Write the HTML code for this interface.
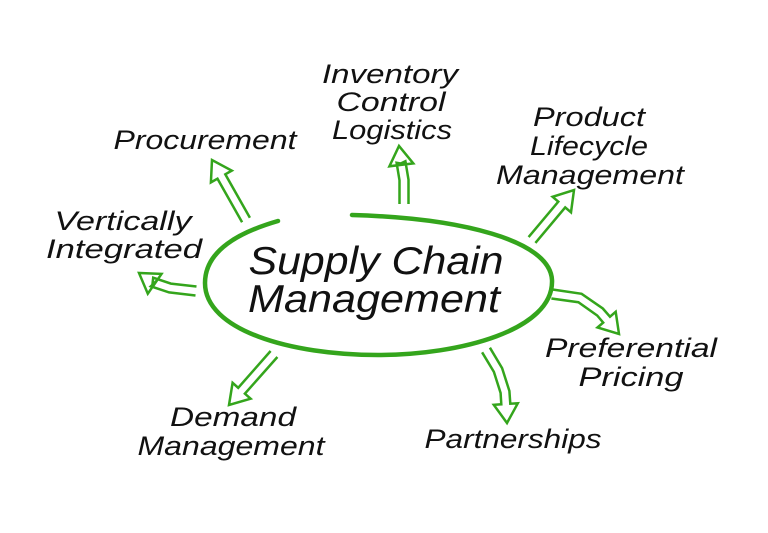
<!DOCTYPE html>
<html><head><meta charset="utf-8"><style>
html,body{margin:0;padding:0;background:#fff;}
svg{display:block}
text{font-family:"Liberation Sans",sans-serif;font-style:italic;fill:#111;}
</style></head><body>
<svg id="s" width="768" height="533" viewBox="0 0 768 533">
<rect width="768" height="533" fill="#fff"/>
<path d="M352,215 C460,218 550,240 552,280 C554,330 460,355 378,355 C290,355 205,330 205,283 C205,250 240,232 278,221" fill="none" stroke="#34a51c" stroke-width="4.5" stroke-linecap="round"/>
<g id="arrows" fill="none" stroke="#34a51c" stroke-width="2.5" stroke-linejoin="miter"></g>
<g font-size="27" text-anchor="middle">
<text x="390" y="83" textLength="136" lengthAdjust="spacingAndGlyphs">Inventory</text>
<text x="391" y="111" textLength="109" lengthAdjust="spacingAndGlyphs">Control</text>
<text x="392" y="139" textLength="120" lengthAdjust="spacingAndGlyphs">Logistics</text>
<text x="205" y="149" textLength="183" lengthAdjust="spacingAndGlyphs">Procurement</text>
<text x="589" y="126" textLength="112" lengthAdjust="spacingAndGlyphs">Product</text>
<text x="589" y="155" textLength="118" lengthAdjust="spacingAndGlyphs">Lifecycle</text>
<text x="590" y="184" textLength="188" lengthAdjust="spacingAndGlyphs">Management</text>
<text x="123" y="230" textLength="137" lengthAdjust="spacingAndGlyphs">Vertically</text>
<text x="124" y="258" textLength="156" lengthAdjust="spacingAndGlyphs">Integrated</text>
<text x="631" y="357" textLength="172" lengthAdjust="spacingAndGlyphs">Preferential</text>
<text x="631" y="386" textLength="105" lengthAdjust="spacingAndGlyphs">Pricing</text>
<text x="233" y="426" textLength="126" lengthAdjust="spacingAndGlyphs">Demand</text>
<text x="231" y="455" textLength="187" lengthAdjust="spacingAndGlyphs">Management</text>
<text x="513" y="448" textLength="177" lengthAdjust="spacingAndGlyphs">Partnerships</text>
</g>
<g font-size="39" text-anchor="middle">
<text x="376" y="274" textLength="255" lengthAdjust="spacingAndGlyphs">Supply Chain</text>
<text x="374" y="312" textLength="252" lengthAdjust="spacingAndGlyphs">Management</text>
</g>
</svg>
<script>
var g=document.getElementById('arrows');
function arrow(pts){
  var w=4.5,hw=12,hl=19;
  var n=pts.length,L=[],R=[];
  var tip=pts[n-1],pre=pts[n-2];
  var dx=tip[0]-pre[0],dy=tip[1]-pre[1],d=Math.hypot(dx,dy);dx/=d;dy/=d;
  var base=[tip[0]-dx*hl,tip[1]-dy*hl];
  var cl=pts.slice(0,n-1).concat([base]);
  for(var i=0;i<cl.length;i++){
    var a=cl[Math.max(0,i-1)],b=cl[Math.min(cl.length-1,i+1)];
    var ux=b[0]-a[0],uy=b[1]-a[1],ul=Math.hypot(ux,uy);ux/=ul;uy/=ul;
    L.push([cl[i][0]-uy*w,cl[i][1]+ux*w]);R.push([cl[i][0]+uy*w,cl[i][1]-ux*w]);
  }
  var P=L.slice();
  P.push([base[0]-dy*hw,base[1]+dx*hw]);P.push(tip);P.push([base[0]+dy*hw,base[1]-dx*hw]);
  P=P.concat(R.reverse());
  var p=document.createElementNS('http://www.w3.org/2000/svg','polyline');
  p.setAttribute('points',P.map(function(q){return q[0].toFixed(1)+','+q[1].toFixed(1)}).join(' '));
  g.appendChild(p);
}
arrow([[246,220],[212,160]]);
arrow([[404,204],[404,180],[401,162],[399,146]]);
arrow([[532,240],[574,190]]);
arrow([[196,291],[170,288],[152,282],[139,273]]);
arrow([[552,294],[580,298],[600,312],[619,334]]);
arrow([[486,350],[498,370],[505,392],[507,423]]);
arrow([[274,354],[229,405]]);
</script>
</body></html>
